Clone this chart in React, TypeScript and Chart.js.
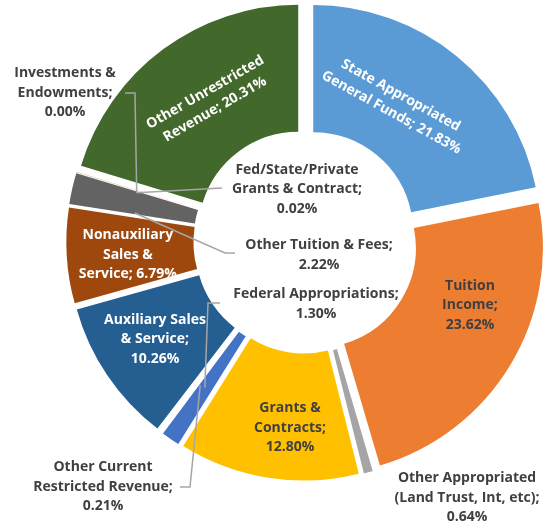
import React, { useEffect, useRef } from "react";
import { Chart, registerables } from "chart.js";

Chart.register(...registerables);

// ---------- data ----------
const categories = [
  "State Appropriated General Funds",
  "Tuition Income",
  "Other Appropriated (Land Trust, Int, etc)",
  "Grants & Contracts",
  "Federal Appropriations",
  "Other Current Restricted Revenue",
  "Auxiliary Sales & Service",
  "Nonauxiliary Sales & Service",
  "Other Tuition & Fees",
  "Fed/State/Private Grants & Contract",
  "Investments & Endowments",
  "Other Unrestricted Revenue",
];

const values = [21.83, 23.62, 0.64, 12.8, 1.3, 0.21, 10.26, 6.79, 2.22, 0.02, 0.0, 20.31];

const sliceColors = [
  "#5B9BD5",
  "#ED7D31",
  "#A5A5A5",
  "#FFC000",
  "#4472C4",
  "#FFFFFF",
  "#255E91",
  "#9E480E",
  "#636363",
  "#997300",
  "#264478",
  "#43682B",
];

// label text lines ("{v}" is replaced by the value)
const labelLines = [
  ["State Appropriated", "General Funds; {v}"],
  ["Tuition", "Income;", "{v}"],
  ["Other Appropriated", "(Land Trust, Int, etc);", "{v}"],
  ["Grants &", "Contracts;", "{v}"],
  ["Federal Appropriations;", "{v}"],
  ["Other Current", "Restricted Revenue;", "{v}"],
  ["Auxiliary Sales", "& Service;", "{v}"],
  ["Nonauxiliary", "Sales &", "Service; {v}"],
  ["Other Tuition & Fees;", "{v}"],
  ["Fed/State/Private", "Grants & Contract;", "{v}"],
  ["Investments &", "Endowments;", "{v}"],
  ["Other Unrestricted", "Revenue; {v}"],
];

// ---------- layout / style ----------
const EXPLODE = 12.2;
const DARK = "#404040";
const WHITE = "#FFFFFF";
const LEADER = "#A6A6A6";
const FONT = 'bold 14px "Open Sans", "Segoe UI", sans-serif';
const LINE_H = 19.5;

type Place =
  | { mode: "in"; dAngle: number; rFrac: number; rot: number; color: string }
  | {
      mode: "free";
      dx: number;
      dy: number;
      color: string;
      leader?: { pts: number[][]; dAngle: number; rFrac: number };
    };

const placements: Place[] = [
  { mode: "in", dAngle: -6.4, rFrac: 0.414, rot: 29, color: WHITE },
  { mode: "in", dAngle: -10.7, rFrac: 0.507, rot: 0, color: DARK },
  { mode: "free", dx: 161.5, dy: 256.5, color: DARK },
  { mode: "in", dAngle: -4.5, rFrac: 0.59, rot: 0, color: DARK },
  {
    mode: "free",
    dx: 10.5,
    dy: 62.5,
    color: DARK,
    leader: { pts: [[-85.5, 61.5], [-97.5, 61.5]], dAngle: 0.2, rFrac: 0.515 },
  },
  {
    mode: "free",
    dx: -202.5,
    dy: 245.5,
    color: DARK,
    leader: { pts: [[-125.5, 245.5], [-115.5, 245.5]], dAngle: -0.9, rFrac: 0.52 },
  },
  { mode: "in", dAngle: 1.2, rFrac: 0.53, rot: 0, color: WHITE },
  { mode: "in", dAngle: -1.0, rFrac: 0.52, rot: 0, color: WHITE },
  {
    mode: "free",
    dx: 13.5,
    dy: 13.5,
    color: DARK,
    leader: { pts: [[-70.5, 11.5], [-80.5, 11.5]], dAngle: -3.6, rFrac: 0.48 },
  },
  {
    mode: "free",
    dx: -8.5,
    dy: -52,
    color: DARK,
    leader: { pts: [[-83.5, -53.5]], dAngle: -0.8, rFrac: 0.5 },
  },
  {
    mode: "free",
    dx: -240.5,
    dy: -148.5,
    color: DARK,
    leader: { pts: [[-180.5, -148.5], [-170.5, -148.5]], dAngle: -0.9, rFrac: 0.5 },
  },
  { mode: "in", dAngle: 2.6, rFrac: 0.455, rot: -30, color: WHITE },
];

const fmt = (v: number) => v.toFixed(2) + "%";

const explodePlugin = {
  id: "explodeSlices",
  beforeDatasetDraw(chart: any, args: any) {
    const meta = chart.getDatasetMeta(args.index);
    const ctx = chart.ctx;
    meta.data.forEach((arc: any) => {
      const mid = (arc.startAngle + arc.endAngle) / 2;
      ctx.save();
      ctx.translate(Math.cos(mid) * EXPLODE, Math.sin(mid) * EXPLODE);
      arc.draw(ctx);
      ctx.restore();
    });
    return false;
  },
};

const labelPlugin = {
  id: "sliceLabels",
  afterDatasetsDraw(chart: any) {
    const meta = chart.getDatasetMeta(0);
    const ctx = chart.ctx;
    ctx.save();
    ctx.font = FONT;
    ctx.textAlign = "center";
    ctx.textBaseline = "middle";
    meta.data.forEach((arc: any, i: number) => {
      const p = placements[i];
      const mid = (arc.startAngle + arc.endAngle) / 2;
      const tx = Math.cos(mid) * EXPLODE;
      const ty = Math.sin(mid) * EXPLODE;
      const cx = arc.x;
      const cy = arc.y;
      const ringPoint = (dAngle: number, rFrac: number) => {
        const a = mid + (dAngle * Math.PI) / 180;
        const r = arc.innerRadius + rFrac * (arc.outerRadius - arc.innerRadius);
        return [cx + tx + Math.cos(a) * r, cy + ty + Math.sin(a) * r];
      };
      const lines = labelLines[i].map((s) => s.replace("{v}", fmt(values[i])));
      let px: number, py: number, rot = 0;
      if (p.mode === "in") {
        [px, py] = ringPoint(p.dAngle, p.rFrac);
        rot = p.rot;
      } else {
        px = cx + p.dx;
        py = cy + p.dy;
        if (p.leader) {
          const end = ringPoint(p.leader.dAngle, p.leader.rFrac);
          ctx.beginPath();
          ctx.strokeStyle = LEADER;
          ctx.lineWidth = 1.5;
          p.leader.pts.forEach((pt, k) => {
            const x = cx + pt[0];
            const y = cy + pt[1];
            if (k === 0) ctx.moveTo(x, y);
            else ctx.lineTo(x, y);
          });
          ctx.lineTo(end[0], end[1]);
          ctx.stroke();
        }
      }
      ctx.save();
      ctx.translate(px, py);
      ctx.rotate((rot * Math.PI) / 180);
      ctx.fillStyle = p.color;
      const n = lines.length;
      lines.forEach((s, k) => {
        ctx.fillText(s, 0, (k - (n - 1) / 2) * LINE_H);
      });
      ctx.restore();
    });
    ctx.restore();
  },
};

export default function App() {
  const ref = useRef<HTMLCanvasElement | null>(null);
  useEffect(() => {
    if (!ref.current) return;
    const chart = new Chart(ref.current, {
      type: "doughnut",
      data: {
        labels: categories,
        datasets: [
          {
            data: values,
            backgroundColor: sliceColors,
            borderWidth: 0,
            radius: 227,
            cutout: "44%",
          } as any,
        ],
      },
      options: {
        responsive: false,
        animation: false,
        events: [],
        layout: { padding: { left: 64, right: 0, top: 0, bottom: 46 } },
        plugins: {
          legend: { display: false },
          tooltip: { enabled: false },
        },
      },
      plugins: [explodePlugin, labelPlugin],
    });
    return () => chart.destroy();
  }, []);
  return (
    <div style={{ position: "absolute", left: 0, top: 0, width: 547, height: 529, background: "#fff" }}>
      <canvas ref={ref} width={547} height={529} style={{ width: 547, height: 529, display: "block" }} />
    </div>
  );
}
